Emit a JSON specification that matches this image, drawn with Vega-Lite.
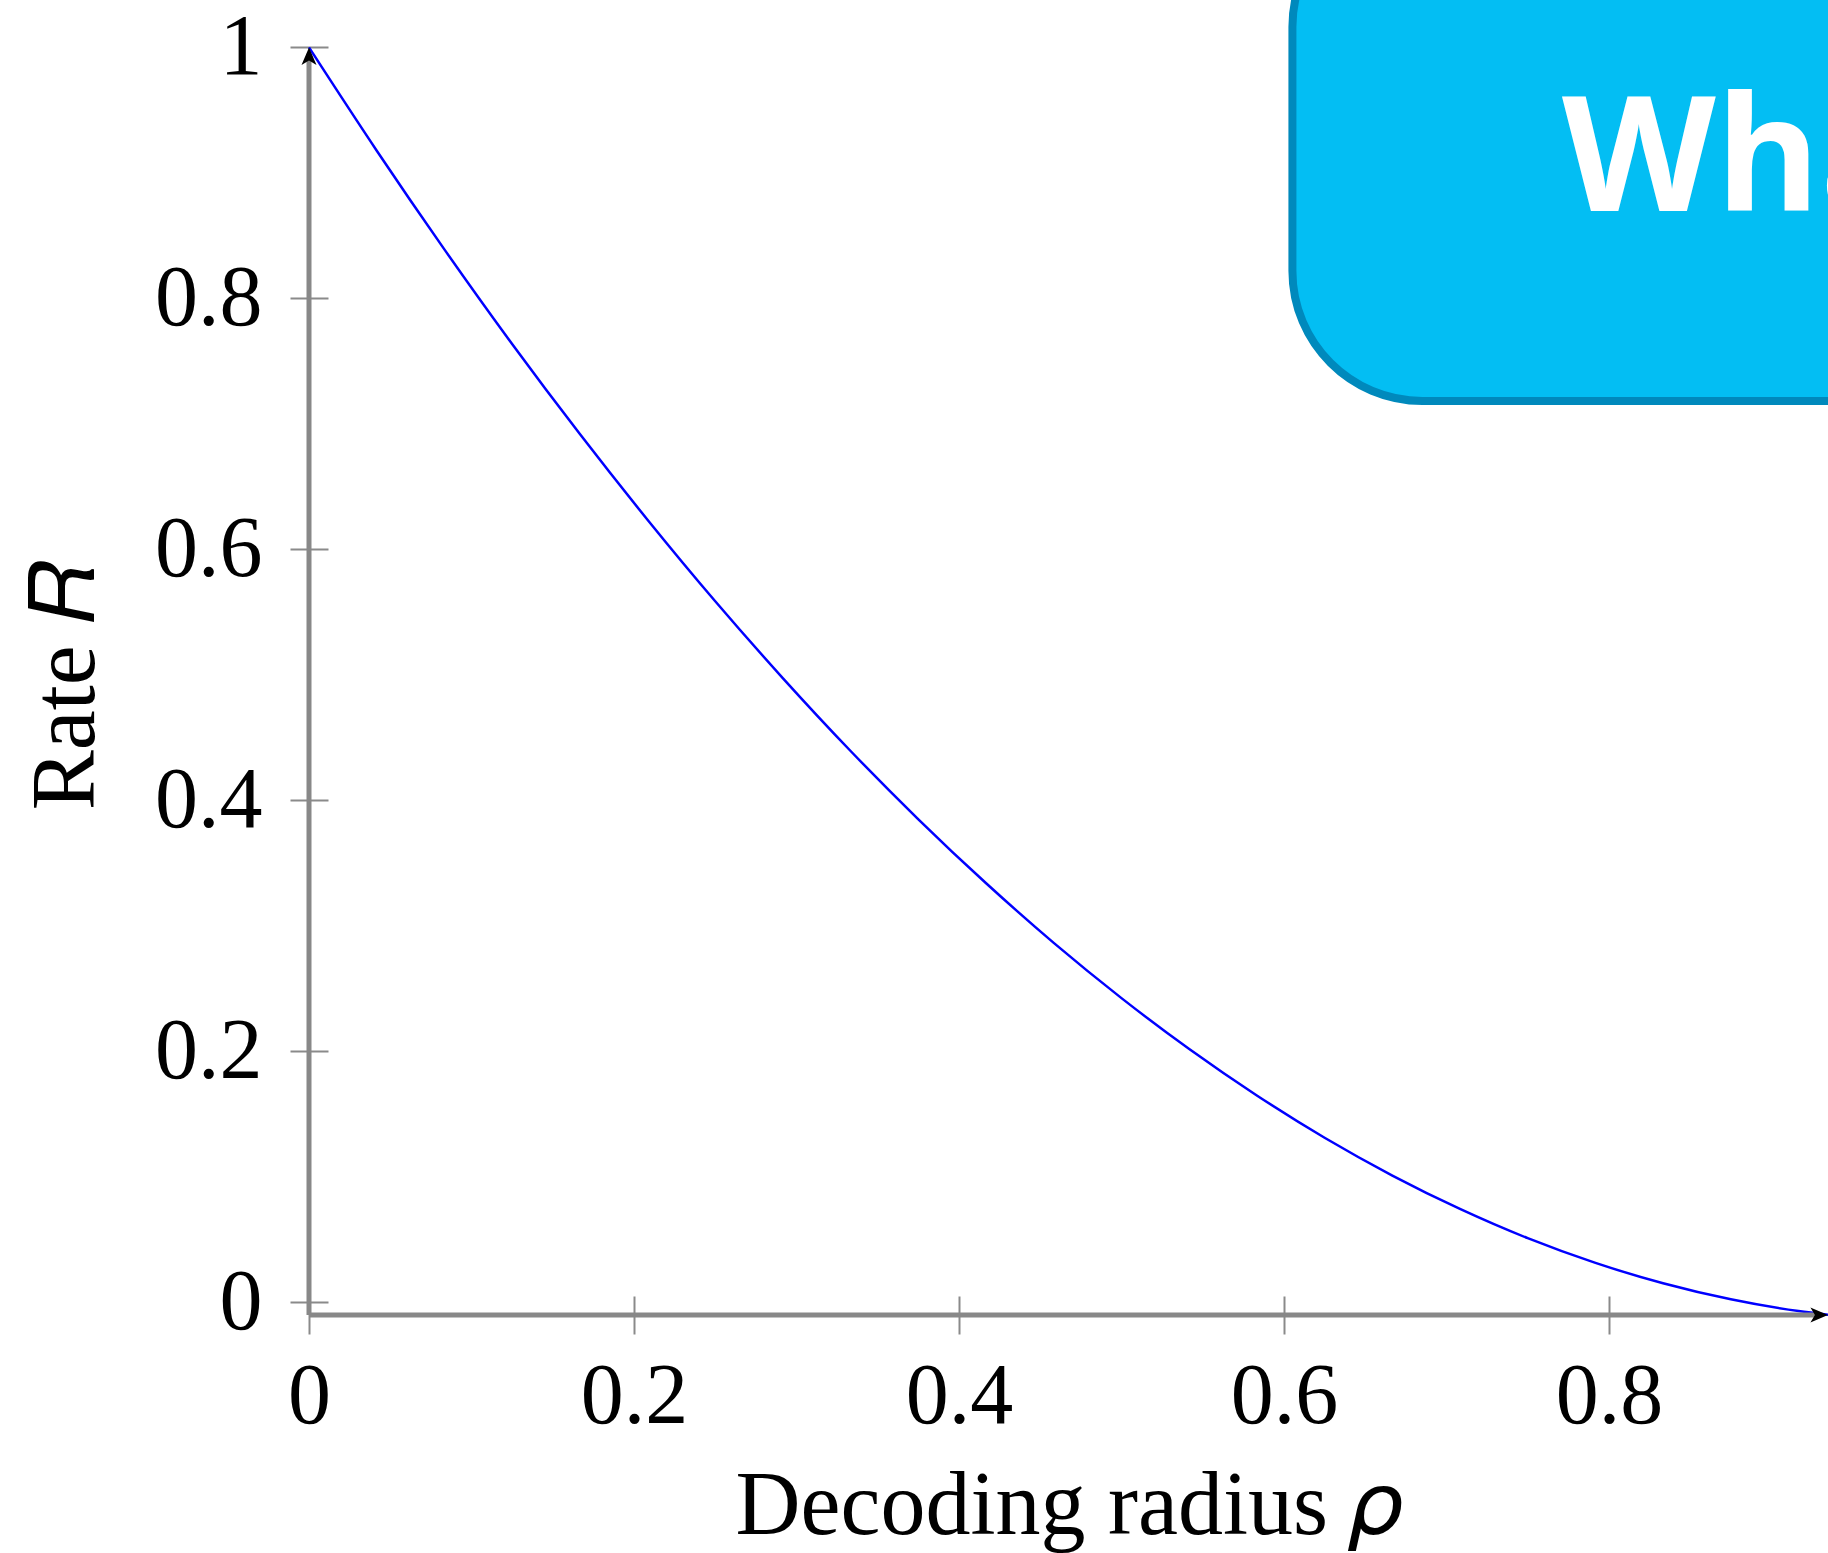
{
  "$schema": "https://vega.github.io/schema/vega-lite/v6.json",
  "width": 1519,
  "height": 1315,
  "autosize": "none",
  "padding": {"left": 309, "top": 0, "right": 0, "bottom": 238},
  "background": "white",
  "config": {"view": {"stroke": null}, "font": "Liberation Serif"},
  "layer": [
    {
      "data": {"values": [
        {"rho": 0, "R": 1.0},
        {"rho": 0.0417, "R": 0.9177},
        {"rho": 0.0833, "R": 0.8391},
        {"rho": 0.125, "R": 0.7637},
        {"rho": 0.1667, "R": 0.6919},
        {"rho": 0.2083, "R": 0.6237},
        {"rho": 0.25, "R": 0.5587},
        {"rho": 0.2917, "R": 0.4973},
        {"rho": 0.3333, "R": 0.4394},
        {"rho": 0.375, "R": 0.3850},
        {"rho": 0.4167, "R": 0.3340},
        {"rho": 0.4583, "R": 0.2865},
        {"rho": 0.5, "R": 0.2425},
        {"rho": 0.5417, "R": 0.2019},
        {"rho": 0.5833, "R": 0.1649},
        {"rho": 0.625, "R": 0.1312},
        {"rho": 0.6667, "R": 0.1011},
        {"rho": 0.7083, "R": 0.0745},
        {"rho": 0.75, "R": 0.0512},
        {"rho": 0.7917, "R": 0.0315},
        {"rho": 0.8333, "R": 0.0153},
        {"rho": 0.875, "R": 0.0025},
        {"rho": 0.9167, "R": -0.0069},
        {"rho": 0.935, "R": -0.0098}
      ]},
      "mark": {"type": "line", "color": "#0000FF", "strokeWidth": 2.5, "interpolate": "monotone"},
      "encoding": {
        "x": {
          "field": "rho", "type": "quantitative",
          "scale": {"domain": [0, 0.9348], "nice": false, "zero": false},
          "axis": {
            "values": [0, 0.2, 0.4, 0.6, 0.8],
            "format": "~g",
            "domain": false, "grid": false,
            "offset": -19, "tickSize": 38, "tickColor": "#8a8a8a", "tickWidth": 2,
            "labelFont": "Liberation Serif", "labelFontSize": 86, "labelColor": "black",
            "labelPadding": 20, "labelFlush": false, "labelOverlap": false,
            "title": "Decoding radius 𝜌",
            "titleFont": "Liberation Serif", "titleFontSize": 90, "titleFontWeight": "normal",
            "titleColor": "black", "titlePadding": 23
          }
        },
        "y": {
          "field": "R", "type": "quantitative",
          "scale": {"domain": [-0.01, 1.0378], "nice": false, "zero": false},
          "axis": {
            "values": [0, 0.2, 0.4, 0.6, 0.8, 1],
            "format": "~g",
            "domain": false, "grid": false,
            "offset": -19, "tickSize": 38, "tickColor": "#8a8a8a", "tickWidth": 2,
            "labelFont": "Liberation Serif", "labelFontSize": 86, "labelColor": "black",
            "labelPadding": 28, "labelFlush": false, "labelOverlap": false,
            "title": "Rate 𝑅",
            "titleFont": "Liberation Serif", "titleFontSize": 90, "titleFontWeight": "normal",
            "titleColor": "black", "titlePadding": 42, "titleY": 684
          }
        }
      }
    },
    {
      "data": {"values": [{}]},
      "mark": {"type": "rule", "color": "#888888", "strokeWidth": 5},
      "encoding": {
        "x": {"datum": 0, "type": "quantitative"},
        "y": {"datum": -0.01, "type": "quantitative"},
        "y2": {"datum": 0.995}
      }
    },
    {
      "data": {"values": [{}]},
      "mark": {"type": "rule", "color": "#888888", "strokeWidth": 5},
      "encoding": {
        "x": {"datum": 0, "type": "quantitative"},
        "x2": {"datum": 0.93},
        "y": {"datum": -0.01, "type": "quantitative"}
      }
    },
    {
      "data": {"values": [{}]},
      "mark": {"type": "point", "filled": true, "color": "black", "opacity": 1, "size": 400,
               "shape": "M0,-1L0.75,0.75L0,0.3L-0.75,0.75Z"},
      "encoding": {
        "x": {"datum": 0, "type": "quantitative"},
        "y": {"datum": 0.992, "type": "quantitative"}
      }
    },
    {
      "data": {"values": [{}]},
      "mark": {"type": "point", "filled": true, "color": "black", "opacity": 1, "size": 400,
               "shape": "M1,0L-0.75,0.75L-0.3,0L-0.75,-0.75Z"},
      "encoding": {
        "x": {"datum": 0.9286, "type": "quantitative"},
        "y": {"datum": -0.01, "type": "quantitative"}
      }
    },
    {
      "data": {"values": [{}]},
      "mark": {"type": "rect", "fill": "#03BEF3", "stroke": "#0089BC", "strokeWidth": 8,
               "cornerRadius": 130, "clip": true},
      "encoding": {
        "x": {"datum": 0.6052, "type": "quantitative"},
        "x2": {"datum": 1.3},
        "y": {"datum": 0.7183, "type": "quantitative"},
        "y2": {"datum": 1.12}
      }
    },
    {
      "data": {"values": [{}]},
      "mark": {"type": "text", "text": "What", "font": "Open Sans", "fontWeight": "bold",
               "fontSize": 159, "color": "white", "align": "left", "baseline": "alphabetic", "clip": true},
      "encoding": {
        "x": {"datum": 0.7711, "type": "quantitative"},
        "y": {"datum": 0.870, "type": "quantitative"}
      }
    }
  ]
}
